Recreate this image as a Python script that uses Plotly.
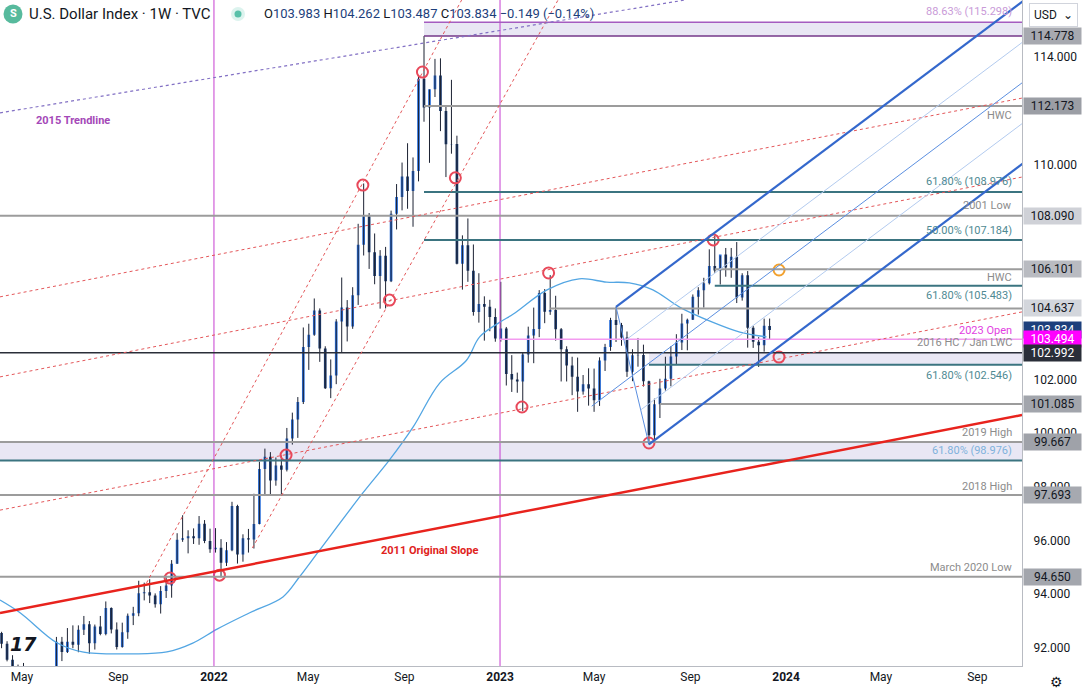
import pandas as pd
import plotly.graph_objects as go

# ---- weekly candles (week starting Monday) ----
weeks = pd.date_range("2021-03-29", "2023-12-11", freq="7D")

open_2021 = [92.76, 92.56, 92.16, 91.56, 90.85, 91.28, 90.22, 90.31, 90.01, 90.03, 90.13, 90.55, 92.23, 91.85,
             92.23, 92.12, 92.68, 92.88, 92.17, 92.80, 92.52, 93.49, 92.69, 92.03, 92.58, 93.20, 93.29, 94.04,
             94.07, 93.95, 93.63, 94.12, 94.32, 95.13, 96.03, 96.08, 96.16, 96.08, 96.62, 95.98]
high_2021 = [93.44, 92.60, 92.25, 91.73, 91.38, 91.44, 90.91, 90.62, 90.19, 90.63, 90.62, 92.41, 92.41, 92.74,
             92.84, 92.84, 93.19, 93.00, 92.87, 93.19, 93.73, 93.51, 92.95, 92.94, 93.28, 93.53, 94.50, 94.43,
             94.56, 94.03, 94.30, 94.63, 95.27, 96.27, 96.94, 96.38, 96.45, 96.91, 96.76, 96.44]
low_2021 = [92.48, 91.99, 91.50, 90.82, 90.42, 89.98, 89.98, 89.53, 89.65, 89.66, 89.81, 90.40, 91.51, 91.81,
            91.99, 91.84, 92.48, 91.78, 91.94, 92.47, 92.47, 92.54, 91.94, 92.01, 92.34, 92.85, 93.18, 93.77,
            93.67, 93.50, 93.28, 93.86, 93.87, 95.13, 95.95, 95.52, 95.87, 95.84, 95.90, 95.54]
close_2021 = [92.56, 92.16, 91.56, 90.85, 91.28, 90.22, 90.31, 90.01, 90.03, 90.13, 90.55, 92.23, 91.85, 92.23,
              92.12, 92.68, 92.88, 92.17, 92.80, 92.52, 93.49, 92.69, 92.03, 92.58, 93.20, 93.29, 94.04, 94.07,
              93.95, 93.63, 94.12, 94.32, 95.13, 96.03, 96.08, 96.16, 96.08, 96.62, 95.98, 95.67]

open_2022 = [95.67, 95.73, 95.17, 95.64, 97.28, 95.48, 96.08, 96.04, 96.61, 98.66, 99.12, 98.23, 98.79, 98.63,
             99.80, 100.50, 101.16, 103.20, 103.66, 104.56, 103.15, 101.67, 102.14, 104.15, 104.67, 103.97,
             105.13, 107.01, 108.07, 106.73, 105.85, 106.60, 105.65, 108.16, 108.79, 109.55, 109.01, 109.76,
             113.19, 112.12, 112.80, 113.31, 111.99, 110.75, 110.76, 106.30, 106.99, 106.04, 104.51, 104.80,
             104.70, 104.32]
high_2022 = [96.46, 96.05, 95.94, 97.44, 97.33, 96.23, 96.43, 97.74, 98.93, 99.42, 99.29, 99.09, 99.16, 100.19,
             100.76, 101.34, 103.93, 104.07, 105.01, 104.64, 103.23, 102.74, 104.24, 105.79, 104.95, 105.43,
             107.79, 109.29, 108.19, 107.43, 106.81, 106.93, 108.28, 109.27, 110.07, 110.79, 110.26, 113.27,
             114.78, 112.79, 113.93, 113.95, 112.18, 113.15, 111.07, 107.36, 107.99, 107.02, 105.95, 105.09,
             104.96, 104.64]
low_2022 = [95.55, 94.63, 95.05, 95.60, 95.14, 95.21, 95.55, 95.70, 96.60, 97.71, 97.73, 98.04, 97.69, 98.57,
            99.57, 99.82, 101.08, 102.35, 103.62, 102.65, 101.64, 101.30, 101.82, 102.99, 103.41, 103.88,
            104.77, 106.61, 106.11, 105.54, 104.63, 104.64, 105.62, 107.58, 108.29, 108.35, 107.68, 109.37,
            111.59, 110.06, 112.51, 111.24, 109.53, 110.40, 106.28, 105.34, 105.63, 104.37, 104.11, 103.44,
            103.79, 103.40]
close_2022 = [95.73, 95.17, 95.64, 97.28, 95.48, 96.08, 96.04, 96.61, 98.66, 99.12, 98.23, 98.79, 98.63, 99.80,
              100.50, 101.16, 103.20, 103.66, 104.56, 103.15, 101.67, 102.14, 104.15, 104.67, 103.97, 105.13,
              107.01, 108.07, 106.73, 105.85, 106.60, 105.65, 108.16, 108.79, 109.55, 109.01, 109.76, 113.19,
              112.12, 112.80, 113.31, 111.99, 110.75, 110.76, 106.30, 106.99, 106.04, 104.51, 104.80, 104.70,
              104.32, 103.52]

open_2023 = [103.49, 103.89, 102.20, 101.99, 101.92, 102.92, 103.63, 103.87, 105.21, 104.52, 104.58, 103.86,
             103.12, 102.51, 102.10, 101.55, 101.82, 101.66, 101.22, 102.70, 103.20, 104.21, 104.02, 103.56,
             102.28, 102.90, 102.91, 101.93, 99.92, 101.07, 101.66, 102.02, 102.85, 103.37, 104.08, 104.22,
             105.07, 105.32, 105.58, 106.22, 106.05, 106.65, 106.16, 106.56, 105.05, 105.87, 103.92, 103.40,
             103.27, 103.983]
high_2023 = [105.63, 103.95, 102.90, 102.25, 103.01, 103.96, 104.67, 105.32, 105.36, 105.88, 105.11, 103.91,
             103.23, 102.84, 102.81, 102.16, 102.41, 102.40, 102.82, 103.32, 104.29, 104.70, 104.10, 103.78,
             103.12, 103.54, 103.29, 101.95, 101.28, 102.02, 102.84, 103.23, 103.68, 104.44, 104.26, 105.16,
             105.43, 105.78, 106.84, 107.35, 106.60, 106.89, 106.89, 107.11, 105.95, 106.03, 103.99, 103.57,
             104.26, 104.262]
low_2023 = [103.40, 101.77, 101.53, 101.50, 100.82, 102.62, 102.60, 103.57, 104.09, 104.40, 103.44, 101.92,
            101.92, 101.41, 100.79, 101.43, 101.02, 100.79, 101.01, 102.31, 103.06, 103.39, 103.25, 102.09,
            101.93, 102.47, 101.73, 99.58, 99.66, 100.56, 101.58, 101.74, 102.54, 103.09, 103.08, 104.21,
            104.41, 104.67, 105.53, 105.97, 105.53, 105.82, 105.78, 104.84, 104.93, 103.18, 103.17, 102.46,
            103.03, 103.487]
close_2023 = [103.89, 102.20, 101.99, 101.92, 102.92, 103.63, 103.87, 105.21, 104.52, 104.58, 103.86, 103.12,
              102.51, 102.10, 101.55, 101.82, 101.66, 101.22, 102.70, 103.20, 104.21, 104.02, 103.56, 102.28,
              102.90, 102.91, 101.93, 99.92, 101.07, 101.66, 102.02, 102.85, 103.37, 104.08, 104.22, 105.07,
              105.32, 105.58, 106.22, 106.05, 106.65, 106.16, 106.56, 105.05, 105.87, 103.92, 103.40, 103.27,
              103.99, 103.834]

opens = open_2021 + open_2022 + open_2023
highs = high_2021 + high_2022 + high_2023
lows = low_2021 + low_2022 + low_2023
closes = close_2021 + close_2022 + close_2023

# 52-week moving average
ma_dates = ["2021-04-03", "2021-04-29", "2021-06-14", "2021-07-17", "2021-09-20", "2021-11-02", "2021-12-05",
            "2022-01-05", "2022-02-15", "2022-03-30", "2022-04-20", "2022-05-16", "2022-07-10", "2022-08-13",
            "2022-09-12", "2022-10-16", "2022-11-19", "2022-12-06", "2023-01-01", "2023-01-18", "2023-03-02",
            "2023-04-12", "2023-05-17", "2023-06-15", "2023-07-15", "2023-08-18", "2023-09-29", "2023-11-03",
            "2023-12-07"]
ma_values = [93.78, 93.30, 92.20, 91.85, 91.78, 91.85, 92.18, 92.70, 93.30, 93.90, 94.64, 95.65, 97.77, 99.00,
             100.22, 101.86, 102.70, 103.58, 104.13, 104.43, 105.33, 105.74, 105.62, 105.59, 105.33, 104.69,
             104.13, 103.76, 103.58]

# red pivot rings
ring_dates = ["2021-11-06", "2022-01-08", "2022-04-03", "2022-07-10", "2022-08-13", "2022-09-24", "2022-11-05",
              "2023-03-04", "2023-01-29", "2023-07-10", "2023-09-30", "2023-12-23"]
ring_prices = [94.60, 94.71, 99.18, 109.23, 104.95, 113.44, 109.50, 105.96, 100.97, 99.63, 107.19, 102.83]
orange_date = ["2023-12-23"]
orange_price = [106.07]

# horizontal levels
gray_levels = [112.173, 108.090, 106.101, 104.637, 101.085, 99.667, 97.693, 94.650]
gray_starts = ["2022-09-26", None, "2023-10-02", "2023-03-06", "2023-07-24", None, None, None]
fib_levels = [108.976, 107.184, 105.483, 102.546, 98.976]
fib_starts = ["2022-09-26", "2022-09-26", "2023-10-02", "2023-07-10", None]
open_2023_level = 103.494
hc_level = 102.992
zone_top = (114.778, 115.298)

level_labels = [
    ("88.63% (115.298)", 115.298, 11, "#c99bd8"),
    ("HWC", 112.173, -9, "#8c8c8c"),
    ("61.80% (108.976)", 108.976, 10, "#4f8a93"),
    ("2001 Low", 108.090, 10, "#8c8c8c"),
    ("50.00% (107.184)", 107.184, 10, "#4f8a93"),
    ("HWC", 106.101, -8, "#8c8c8c"),
    ("61.80% (105.483)", 105.483, -10, "#4f8a93"),
    ("2023 Open", 103.494, 9, "#e23ee2"),
    ("2016 HC / Jan LWC", 102.992, 10, "#8c8c8c"),
    ("61.80% (102.546)", 102.546, -11, "#4f8a93"),
    ("2019 High", 99.667, 9, "#8c8c8c"),
    ("61.80% (98.976)", 98.976, 10, "#7fb2dc"),
    ("2018 High", 97.693, 9, "#8c8c8c"),
    ("March 2020 Low", 94.650, 9, "#8c8c8c"),
]

# price-scale badges: (price, background, text colour)
badges = [
    (114.778, "#a7a9b0", "#131722"), (112.173, "#9b9ea5", "#131722"), (108.090, "#cfd1d7", "#131722"),
    (106.101, "#b9bbc1", "#131722"), (104.637, "#d3d6dc", "#131722"), (103.834, "#1d3f7c", "#ffffff"),
    (103.494, "#ff00ff", "#ffffff"), (102.992, "#2a2e39", "#ffffff"), (101.085, "#a2a5ac", "#131722"),
    (99.667, "#9fa2a9", "#131722"), (97.693, "#a6a9b0", "#131722"), (94.650, "#a3a6ad", "#131722"),
]

# trendlines (date, price) pairs
slope_2011 = [("2021-04-03", 93.30), ("2024-10-28", 100.67)]
trend_2015 = [("2021-04-03", 111.92), ("2023-08-25", 116.12)]
steep_a = [("2021-10-07", 94.42), ("2022-11-13", 116.12)]
steep_b = [("2022-02-19", 95.72), ("2023-03-16", 116.12)]
channel_c = [("2021-04-03", 105.07), ("2024-10-28", 112.47)]
channel_d = [("2021-04-03", 102.09), ("2024-10-28", 109.53)]
channel_e = [("2021-04-03", 97.13), ("2024-10-28", 104.51)]

# pitchfork pivots
pf_dates = ["2023-04-28", "2023-05-29", "2023-07-10"]
pf_prices = [101.0, 104.70, 99.58]

X_LEFT, X_RIGHT = "2021-04-03", "2024-10-28"
X_FAR_L, X_FAR_R = "2021-01-01", "2025-03-01"
Y_RANGE = [91.327, 116.122]

BULL, BEAR, WICK = "#2a6fdb", "#1b3b6f", "#1c2233"

fig = go.Figure()

# wicks under the bodies
wx, wy = [], []
for d, lo, hi in zip(weeks, lows, highs):
    wx += [d, d, None]
    wy += [lo, hi, None]
fig.add_trace(go.Scatter(x=wx, y=wy, mode="lines", line=dict(color=WICK, width=1), hoverinfo="skip"))

fig.add_trace(go.Candlestick(
    x=weeks, open=opens, high=highs, low=lows, close=closes,
    increasing=dict(fillcolor=BULL, line=dict(color=BULL, width=0)),
    decreasing=dict(fillcolor=BEAR, line=dict(color=BEAR, width=0)),
    whiskerwidth=0,
))

fig.add_trace(go.Scatter(x=ma_dates, y=ma_values, mode="lines", line=dict(color="#53a6e3", width=1.3, shape="spline"),
                         hoverinfo="skip"))

shapes = []


def seg(p0, p1, color, width, dash="solid", layer="above"):
    shapes.append(dict(type="line", xref="x", yref="y", x0=p0[0], y0=p0[1], x1=p1[0], y1=p1[1],
                       line=dict(color=color, width=width, dash=dash), layer=layer))


def hline(price, start, color, width):
    seg((start or X_FAR_L, price), (X_FAR_R, price), color, width)


def zone(lo, hi, start):
    shapes.append(dict(type="rect", xref="x", yref="y", x0=start or X_FAR_L, x1=X_FAR_R, y0=lo, y1=hi,
                       fillcolor="#e9e7f4", line=dict(width=0), layer="below"))


zone(zone_top[0], zone_top[1], "2022-09-26")
zone(fib_levels[3], hc_level, "2023-07-10")
zone(fib_levels[4], gray_levels[5], None)

# year separators
for d in ["2022-01-01", "2023-01-01"]:
    shapes.append(dict(type="line", xref="x", yref="paper", x0=d, x1=d, y0=0, y1=1,
                       line=dict(color="#c63fd0", width=1), layer="above"))

for lvl, st in zip(gray_levels, gray_starts):
    hline(lvl, st, "#9c9c9c", 2)
for lvl, st in zip(fib_levels, fib_starts):
    hline(lvl, st, "#3b7480", 2)
hline(zone_top[1], "2022-09-26", "#a55cc0", 1.5)
hline(zone_top[0], "2022-09-26", "#74388a", 1.5)
hline(open_2023_level, "2023-01-01", "#f39bf0", 1.5)
hline(hc_level, None, "#2a2e39", 1.5)

for line in [steep_a, steep_b, channel_c, channel_d, channel_e]:
    seg(line[0], line[1], "#e4575a", 1, "dot")
seg(trend_2015[0], trend_2015[1], "#8270c4", 1.2, "dot")
seg(slope_2011[0], slope_2011[1], "#e8231d", 2.5)

# Andrews pitchfork
t = [pd.Timestamp(d) for d in pf_dates]
mid_t = t[1] + (t[2] - t[1]) / 2
mid_p = (pf_prices[1] + pf_prices[2]) / 2
rate = (mid_p - pf_prices[0]) / ((mid_t - t[0]).days)
t_end = pd.Timestamp(X_FAR_R)


def prong(t0, p0, color, width):
    seg((t0, p0), (t_end, p0 + rate * (t_end - t0).days), color, width)


seg((t[1], pf_prices[1]), (t[2], pf_prices[2]), "#5b8fe0", 1)
prong(t[0], pf_prices[0], "#5b8fe0", 1)
for f, col, w in [(0.0, "#3468cc", 2.2), (0.25, "#b3cbef", 1), (0.75, "#b3cbef", 1), (1.0, "#3468cc", 2.2)]:
    prong(t[1] + (t[2] - t[1]) * f, pf_prices[1] + (pf_prices[2] - pf_prices[1]) * f, col, w)

fig.add_trace(go.Scatter(x=ring_dates, y=ring_prices, mode="markers",
                         marker=dict(symbol="circle-open", size=11, color="#e8485a", line=dict(width=2))))
fig.add_trace(go.Scatter(x=orange_date, y=orange_price, mode="markers",
                         marker=dict(symbol="circle-open", size=11, color="#f2a12e", line=dict(width=2))))

# header icons on a pixel overlay (symbol badge, live dot with halo)
fig.add_trace(go.Scatter(x=[13, 238, 238], y=[14, 14, 14], xaxis="x2", yaxis="y2", mode="markers",
                         marker=dict(size=[19, 14, 7], color=["#0f9d74", "#cdeee7", "#1fa98c"], line=dict(width=0)),
                         hoverinfo="skip"))

ann = []
FONT = "Roboto"
for text, price, shift, col in level_labels:
    ann.append(dict(xref="paper", yref="y", x=0.992, y=price, yshift=shift, xanchor="right", showarrow=False,
                    text=text, font=dict(family=FONT, size=11, color=col)))

ann.append(dict(xref="x", yref="y", x="2021-07-05", y=111.65, text="<b>2015 Trendline</b>", showarrow=False,
                font=dict(family=FONT, size=11, color="#a448b8")))
ann.append(dict(xref="x", yref="y", x="2022-10-03", y=95.61, text="<b>2011 Original Slope</b>", showarrow=False,
                font=dict(family=FONT, size=11, color="#e0231c")))

for price, bg, fg in badges:
    ann.append(dict(xref="paper", yref="y", x=1.0, xshift=1, y=price, xanchor="left", showarrow=False,
                    text=f"{price:.3f}", bgcolor=bg, width=55, height=14, borderpad=1,
                    font=dict(family=FONT, size=12, color=fg)))


def px(xp, yp):
    return xp / 1022, 1 - yp / 666


def text_at(xp, yp, text, size, color, family=FONT, anchor="center", **kw):
    x, y = px(xp, yp)
    ann.append(dict(xref="paper", yref="paper", x=x, y=y, xanchor=anchor, yanchor="middle", showarrow=False,
                    text=text, font=dict(family=family, size=size, color=color), **kw))


# header
text_at(13, 14, "<b>S</b>", 11, "white")
text_at(27, 14, "U.S. Dollar Index · 1W · TVC", 15, "#131722", anchor="left")
v = "<span style='color:#1d3f7c'>{}</span>"
ohlc = ("O" + v.format("103.983") + " H" + v.format("104.262") + " L" + v.format("103.487") +
        " C" + v.format("103.834") + " " + v.format("−0.149 (−0.14%)"))
text_at(262, 14, ohlc, 13, "#131722", anchor="left")
text_at(1053, 15, "USD  ⌄", 12, "#131722", bgcolor="white", bordercolor="#d1d4dc", borderwidth=1, borderpad=4)
text_at(1056, 682, "⚙", 14, "#131722", family="DejaVu Sans")
# TradingView watermark logo, bottom-left
text_at(8, 644, "<b><i>17</i></b>", 19, "#131722", family="DejaVu Sans", anchor="left")

fig.update_layout(
    width=1083, height=691,
    margin=dict(l=0, r=61, t=0, b=25),
    paper_bgcolor="white", plot_bgcolor="white",
    showlegend=False,
    shapes=shapes, annotations=ann,
    font=dict(family=FONT, color="#131722"),
    xaxis=dict(type="date", range=[X_LEFT, X_RIGHT], rangeslider=dict(visible=False), showgrid=False,
               zeroline=False, showline=True, linecolor="#b8bbc2", linewidth=1, ticks="",
               tickvals=["2021-05-01", "2021-09-01", "2022-01-01", "2022-05-01", "2022-09-01", "2023-01-01",
                         "2023-05-01", "2023-09-01", "2024-01-01", "2024-05-01", "2024-09-01"],
               ticktext=["May", "Sep", "<b>2022</b>", "May", "Sep", "<b>2023</b>", "May", "Sep", "<b>2024</b>",
                         "May", "Sep"],
               tickfont=dict(family=FONT, size=12, color="#131722")),
    yaxis=dict(side="right", range=Y_RANGE, showgrid=False, zeroline=False, showline=True, linecolor="#b8bbc2",
               linewidth=1, ticks="", tickvals=[92, 94, 96, 98, 100, 102, 110, 114],
               ticktext=["92.000", "94.000", "96.000", "98.000", "100.000", "102.000", "110.000", "114.000"],
               tickfont=dict(family=FONT, size=12, color="#131722"), ticklabelstandoff=8),
    xaxis2=dict(overlaying="x", anchor="y2", range=[0, 1022], visible=False, fixedrange=True),
    yaxis2=dict(overlaying="y", anchor="x2", range=[666, 0], visible=False, fixedrange=True),
)

fig.write_html("out.html", config={"displayModeBar": False},
               post_script="document.body.style.margin='0px';document.body.style.overflow='hidden';")
